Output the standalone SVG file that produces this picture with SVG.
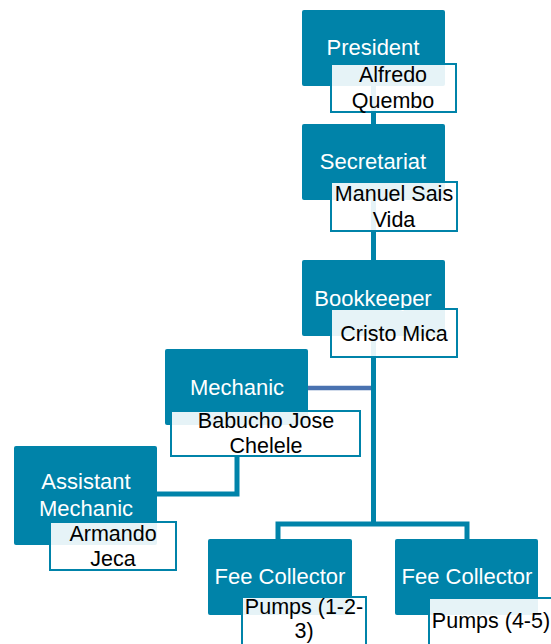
<svg xmlns="http://www.w3.org/2000/svg" width="551" height="644" viewBox="0 0 551 644">
<style>
.role{fill:#0083a9;}
.name{fill:#ffffff;fill-opacity:0.9;stroke:#0083a9;stroke-width:2;}
.rt{font-family:"Liberation Sans",Arial,sans-serif;font-size:22px;fill:#ffffff;text-anchor:middle;}
.nt{font-family:"Liberation Sans",Arial,sans-serif;font-size:21.5px;fill:#000000;text-anchor:middle;}
.conn{fill:none;stroke:#0083a9;stroke-width:5;}
</style>
<rect width="551" height="644" fill="#ffffff"/>
<g id="connectors">
<path class="conn" d="M373.5,86 V524"/>
<path class="conn" d="M278,539 V524 H467 V539"/>
<path fill="none" stroke="#4a72b0" stroke-width="4.5" d="M308,388 H371"/>
<path class="conn" stroke-width="4" d="M237,457 V494 H157"/>
</g>
<g id="president">
<rect class="role" x="302" y="10" width="143" height="76" rx="2"/>
<text class="rt" x="373" y="55">President</text>
<rect class="name" x="331" y="64" width="125" height="48"/>
<text class="nt" x="393" y="82">Alfredo</text>
<text class="nt" x="393" y="108">Quembo</text>
</g>
<g id="secretariat">
<rect class="role" x="302" y="124" width="143" height="76" rx="2"/>
<text class="rt" x="373" y="169">Secretariat</text>
<rect class="name" x="331" y="182" width="126" height="49"/>
<text class="nt" x="394" y="201">Manuel Sais</text>
<text class="nt" x="394" y="227">Vida</text>
</g>
<g id="bookkeeper">
<rect class="role" x="302" y="260" width="143" height="76" rx="2"/>
<text class="rt" x="373" y="306">Bookkeeper</text>
<rect class="name" x="331" y="309" width="126" height="48"/>
<text class="nt" x="394" y="341">Cristo Mica</text>
</g>
<g id="mechanic">
<rect class="role" x="165" y="349" width="143" height="76" rx="2"/>
<text class="rt" x="237" y="395">Mechanic</text>
<rect class="name" x="171" y="411" width="189" height="45"/>
<text class="nt" x="266" y="428">Babucho Jose</text>
<text class="nt" x="266" y="453">Chelele</text>
</g>
<g id="assistant-mechanic">
<rect class="role" x="14" y="446" width="143" height="99" rx="2"/>
<text class="rt" x="86" y="489">Assistant</text>
<text class="rt" x="86" y="516">Mechanic</text>
<rect class="name" x="50" y="522" width="126" height="48"/>
<text class="nt" x="113" y="541">Armando</text>
<text class="nt" x="113" y="566">Jeca</text>
</g>
<g id="fee-collector-1">
<rect class="role" x="208" y="539" width="144" height="76" rx="2"/>
<text class="rt" x="280" y="584">Fee Collector</text>
<rect class="name" x="242" y="597" width="124" height="60"/>
<text class="nt" x="304" y="614">Pumps (1-2-</text>
<text class="nt" x="304" y="638">3)</text>
</g>
<g id="fee-collector-2">
<rect class="role" x="395" y="539" width="143" height="76" rx="2"/>
<text class="rt" x="467" y="584">Fee Collector</text>
<rect class="name" x="429" y="598" width="126" height="60"/>
<text class="nt" x="491" y="628">Pumps (4-5)</text>
</g>
</svg>
